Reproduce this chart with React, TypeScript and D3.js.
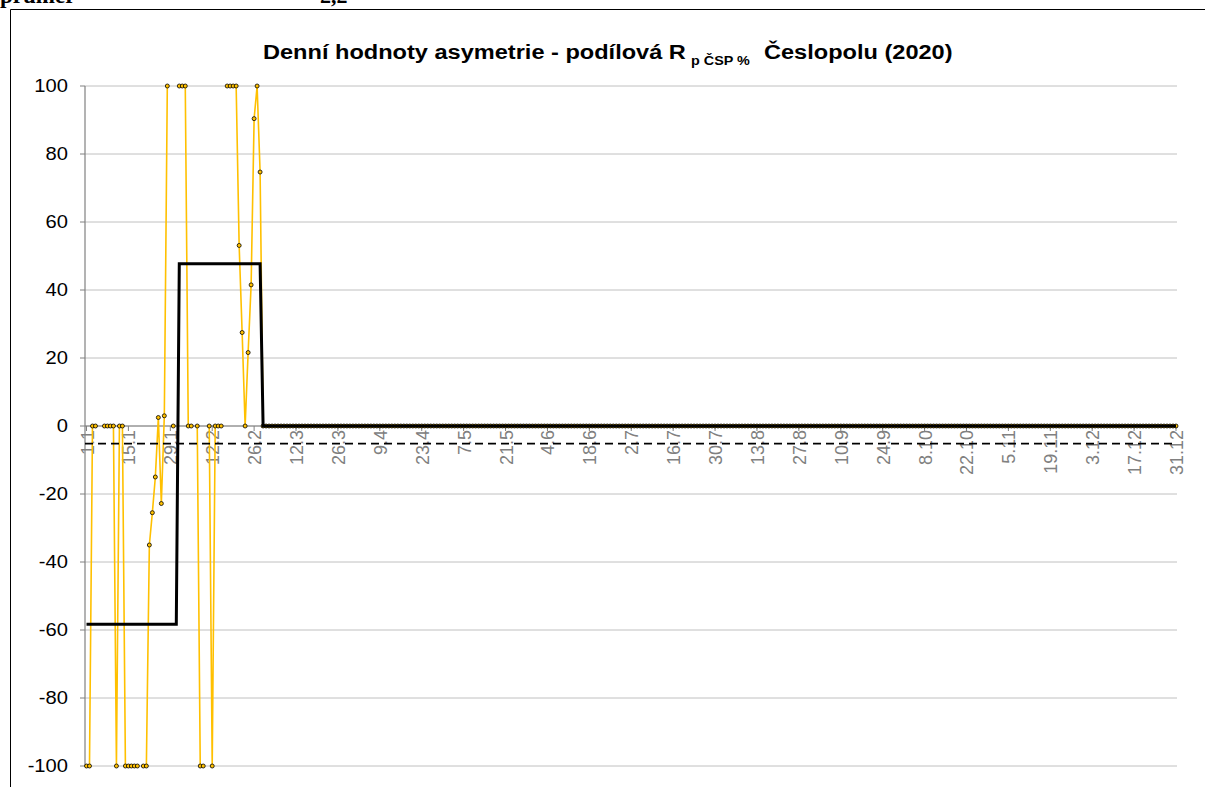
import React from "react";
import * as d3 from "d3";

const W = 1205;
const H = 787;

// daily values Jan + Feb (null = no value that day)
const janFebValues: (number | null)[] = [
  -100, -100, 0, 0, null, null, 0, 0, 0, 0,
  -100, 0, 0, -100, -100, -100, -100, -100, null, -100,
  -100, -35, -25.5, -15, 2.5, -22.8, 3, 100, null, 0,
  null,
  100, 100, 100, 0, 0, null, 0, -100, -100, null,
  0, -100, 0, 0, 0, null, 100, 100, 100, 100,
  53.1, 27.5, 0, 21.6, 41.5, 90.4, 100, 74.7,
];
// March..December daily value
const restOfYearValue = 0;

const monthLengths = [31, 28, 31, 30, 31, 30, 31, 31, 30, 31, 30, 31];
const monthlyMean = [-58.3, 47.7, 0, 0, 0, 0, 0, 0, 0, 0, 0, 0];
const yearMean = -5.2;

const tickLabels = [
  "1.1", "15.1", "29.1", "12.2", "26.2", "12.3", "26.3", "9.4", "23.4",
  "7.5", "21.5", "4.6", "18.6", "2.7", "16.7", "30.7", "13.8", "27.8",
  "10.9", "24.9", "8.10", "22.10", "5.11", "19.11", "3.12", "17.12", "31.12",
];
const tickStep = 14;
const yTicks = [100, 80, 60, 40, 20, 0, -20, -40, -60, -80, -100];

const nDays = d3.sum(monthLengths);

const daily: (number | null)[] = janFebValues.concat(
  new Array(nDays - janFebValues.length).fill(restOfYearValue)
);
const monthly: number[] = [];
monthLengths.forEach((len, m) => {
  for (let i = 0; i < len; i++) monthly.push(monthlyMean[m]);
});

export default function App() {
  const left = 85, right = 1177, top = 86, bottom = 766;

  const x = d3.scaleLinear().domain([0, nDays - 1]).range([left + 1.5, right - 1]);
  const y = d3.scaleLinear().domain([-100, 100]).range([bottom, top]);

  const line = d3.line<number | null>()
    .defined((d) => d != null)
    .x((_, i) => x(i))
    .y((d) => y(d as number));

  const stepLine = d3.line<number>()
    .x((_, i) => x(i))
    .y((d) => y(d));

  const font = "Arial, 'Liberation Sans', sans-serif";

  return (
    <svg width={W} height={H} style={{ position: "absolute", left: 0, top: 0, background: "#fff" }}>
      {/* sheet text above the chart */}
      <text x={0} y={3} fontFamily="'Liberation Serif', 'Times New Roman', serif" fontWeight="bold" fontSize={23}>průměr</text>
      <text x={320} y={3} fontFamily="'Liberation Serif', 'Times New Roman', serif" fontWeight="bold" fontSize={22}>2,2</text>

      {/* chart frame */}
      <line x1={10.5} y1={9.5} x2={W} y2={9.5} stroke="#000" />
      <line x1={10.5} y1={9.5} x2={10.5} y2={H} stroke="#000" />

      {/* title */}
      <g fontFamily={font} fontWeight="bold" fill="#000">
        <text transform="translate(263,59) scale(1.15,1)" fontSize={20.5}>Denní hodnoty asymetrie - podílová  R</text>
        <text transform="translate(691,65) scale(1.15,1)" fontSize={12.5}>p ČSP %</text>
        <text transform="translate(764,59) scale(1.15,1)" fontSize={20.5}>Česlopolu (2020)</text>
      </g>

      {/* gridlines */}
      {yTicks.map((t) => (
        <line key={t} x1={left} x2={right} y1={y(t)} y2={y(t)} stroke="#c0c0c0" strokeWidth={1} />
      ))}

      {/* y axis */}
      <line x1={left} x2={left} y1={top} y2={bottom} stroke="#808080" strokeWidth={1.2} />
      {yTicks.map((t) => (
        <g key={"yt" + t}>
          <line x1={left - 5} x2={left} y1={y(t)} y2={y(t)} stroke="#808080" />
          <text transform={`translate(68,${y(t) + 6}) scale(1.12,1)`} textAnchor="end" fontFamily={font} fontSize={18} fill="#000">{t}</text>
        </g>
      ))}

      {/* x axis at 0 */}
      <line x1={left} x2={right} y1={y(0)} y2={y(0)} stroke="#808080" strokeWidth={1.2} />
      {tickLabels.map((lab, i) => {
        const xp = x(i * tickStep);
        return (
          <g key={lab}>
            <line x1={xp} x2={xp} y1={y(0)} y2={y(0) + 5} stroke="#808080" />
            <text transform={`translate(${xp + 1},${y(0) + 4}) rotate(-90)`} textAnchor="end" dominantBaseline="central" fontFamily={font} fontSize={18} fill="#808080">{lab}</text>
          </g>
        );
      })}

      {/* daily series */}
      <path d={line(daily) || ""} fill="none" stroke="#FFC000" strokeWidth={1.6} />
      {daily.map((v, i) =>
        v == null ? null : (
          <circle key={i} cx={x(i)} cy={y(v)} r={2} fill="#FFC000" stroke="#000" strokeWidth={0.8} />
        )
      )}

      {/* monthly mean */}
      <path d={stepLine(monthly) || ""} fill="none" stroke="#000" strokeWidth={3} />

      {/* year mean */}
      <line x1={left} x2={right} y1={y(yearMean)} y2={y(yearMean)} stroke="#000" strokeWidth={1.8} strokeDasharray="8,5" />
    </svg>
  );
}
